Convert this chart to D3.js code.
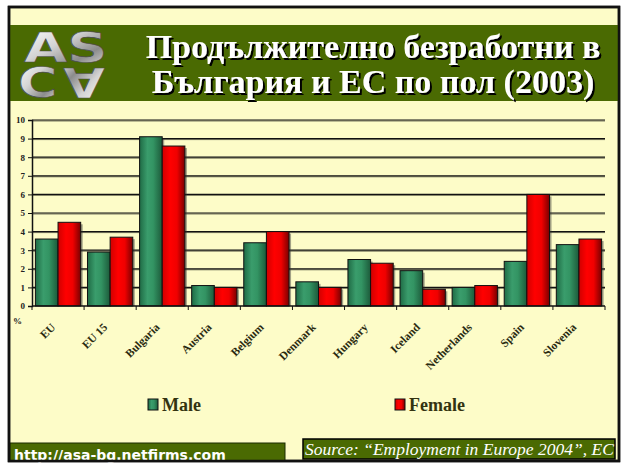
<!DOCTYPE html>
<html>
<head>
<meta charset="utf-8">
<script src="https://cdn.jsdelivr.net/npm/d3@7"></script>
<style>
  body { margin: 0; background: #fff; }
  svg { display: block; }
</style>
</head>
<body>
<div id="chart"></div>
<script>
// chart data
const countries = ["EU", "EU 15", "Bulgaria", "Austria", "Belgium", "Denmark",
                   "Hungary", "Iceland", "Netherlands", "Spain", "Slovenia"];
const male   = [3.6, 2.9, 9.1, 1.1, 3.4, 1.3, 2.5, 1.9, 1.0, 2.4, 3.3];
const female = [4.5, 3.7, 8.6, 1.0, 4.0, 1.0, 2.3, 0.9, 1.1, 6.0, 3.6];
const yTicks = [0, 1, 2, 3, 4, 5, 6, 7, 8, 9, 10];
const seriesNames = ["Male", "Female"];
const titleLines = ["Продължително безработни в", "България и ЕС по пол (2003)"];

const W = 622, H = 463;
const serif = "'Liberation Serif', 'Times New Roman', serif";

const svg = d3.select("#chart").append("svg")
    .attr("width", W)
    .attr("height", H);

const defs = svg.append("defs");

// bar gradients
function barGradient(id, stops) {
    let g = defs.append("linearGradient").attr("id", id)
        .attr("x1", "0%").attr("x2", "100%").attr("y1", "0%").attr("y2", "0%");
    stops.forEach(s => g.append("stop").attr("offset", s[0]).attr("stop-color", s[1]));
}
barGradient("gMale", [["0%", "#1f6b45"], ["35%", "#3a9d6c"], ["60%", "#339463"], ["100%", "#1c5a3a"]]);
barGradient("gFemale", [["0%", "#d00000"], ["35%", "#ff0000"], ["65%", "#f00000"], ["100%", "#7a0000"]]);

// logo silver gradient
let sg = defs.append("linearGradient").attr("id", "silver")
    .attr("x1", "0%").attr("x2", "100%").attr("y1", "0%").attr("y2", "100%");
sg.append("stop").attr("offset", "0%").attr("stop-color", "#ffffff");
sg.append("stop").attr("offset", "40%").attr("stop-color", "#d4d4d4");
sg.append("stop").attr("offset", "70%").attr("stop-color", "#8c8c8c");
sg.append("stop").attr("offset", "100%").attr("stop-color", "#eeeeee");

// title shadow
let sh = defs.append("filter").attr("id", "shadow")
    .attr("x", "-5%").attr("y", "-20%").attr("width", "115%").attr("height", "150%");
sh.append("feDropShadow")
    .attr("dx", 2).attr("dy", 2).attr("stdDeviation", 0.4)
    .attr("flood-color", "#000").attr("flood-opacity", 1);

// background frame
svg.append("rect")
    .attr("x", 9).attr("y", 7)
    .attr("width", 610).attr("height", 454)
    .attr("fill", "#fdfcc8")
    .attr("stroke", "#111")
    .attr("stroke-width", 2.5);

// header band
svg.append("rect")
    .attr("x", 10).attr("y", 25)
    .attr("width", 608).attr("height", 76)
    .attr("fill", "#4a6a02");

// logo
let logo = svg.append("g").attr("font-family", "'DejaVu Sans', Arial, sans-serif")
    .attr("font-weight", "bold")
    .attr("font-size", 40)
    .attr("fill", "url(#silver)")
    .attr("stroke", "#4a4a4a")
    .attr("stroke-width", 0.6);
logo.append("text")
    .attr("transform", "translate(24,62) scale(1.4,1)")
    .text("AS");
logo.append("text")
    .attr("transform", "translate(18,97) scale(1.35,1)")
    .text("C");
logo.append("text")
    .attr("text-anchor", "middle")
    .attr("transform", "translate(84,68) rotate(180) scale(1.35,1)")
    .text("A");

// title
let title = svg.append("g")
    .attr("font-family", serif)
    .attr("font-weight", "bold")
    .attr("font-size", 34)
    .attr("text-anchor", "middle")
    .attr("fill", "#fff")
    .attr("filter", "url(#shadow)");
titleLines.forEach((t, i) => {
    title.append("text")
        .attr("x", 373).attr("y", 58 + i * 35)
        .text(t);
});

// plot area
const margin = {left: 32, right: 605, top: 120, bottom: 306};

const x = d3.scaleBand()
    .domain(countries)
    .range([margin.left, margin.right]);

const sub = d3.scaleBand()
    .domain(seriesNames)
    .range([0, x.bandwidth()])
    .paddingOuter(0.15)
    .paddingInner(0);

const y = d3.scaleLinear()
    .domain([0, 10])
    .range([margin.bottom, margin.top]);

// gridlines
let grid = svg.append("g");
yTicks.filter(d => d > 0).forEach(d => {
    grid.append("line")
        .attr("x1", margin.left).attr("x2", margin.right)
        .attr("y1", y(d) + 1).attr("y2", y(d) + 1)
        .attr("stroke", "#7a7a60").attr("stroke-width", 1);
    grid.append("line")
        .attr("x1", margin.left).attr("x2", margin.right)
        .attr("y1", y(d)).attr("y2", y(d))
        .attr("stroke", "#111").attr("stroke-width", 1.2);
});

// bars
const rows = countries.map((c, i) => ({country: c, values: [male[i], female[i]]}));
const fills = ["url(#gMale)", "url(#gFemale)"];

let groups = svg.append("g").selectAll("g")
    .data(rows)
    .join("g")
    .attr("transform", d => "translate(" + x(d.country) + ",0)");

groups.selectAll(".shadow")
    .data(d => d.values.map((v, k) => ({v: v, k: k})))
    .join("rect")
    .attr("class", "shadow")
    .attr("x", d => sub(seriesNames[d.k]) + 2)
    .attr("y", d => y(d.v) + 2)
    .attr("width", sub.bandwidth())
    .attr("height", d => y(0) - y(d.v) - 2)
    .attr("fill", "#333")
    .attr("opacity", 0.45);

groups.selectAll(".bar")
    .data(d => d.values.map((v, k) => ({v: v, k: k})))
    .join("rect")
    .attr("class", "bar")
    .attr("x", d => sub(seriesNames[d.k]))
    .attr("y", d => y(d.v))
    .attr("width", sub.bandwidth())
    .attr("height", d => y(0) - y(d.v))
    .attr("fill", d => fills[d.k])
    .attr("stroke", "#111")
    .attr("stroke-width", 1);

// y axis
let yAxis = svg.append("g")
    .attr("transform", "translate(" + margin.left + ",0)")
    .call(d3.axisLeft(y).tickValues(yTicks).tickSize(4).tickFormat(d3.format("d")));
yAxis.select(".domain").attr("stroke", "#111").attr("stroke-width", 1.5);
yAxis.selectAll("line").attr("stroke", "#111");
yAxis.selectAll("text")
    .attr("font-family", serif)
    .attr("font-weight", "bold")
    .attr("font-size", 9)
    .attr("fill", "#222")
    .attr("x", -7);

// x axis
let xAxis = svg.append("g")
    .attr("transform", "translate(0," + margin.bottom + ")");
xAxis.append("line")
    .attr("x1", margin.left).attr("x2", margin.right)
    .attr("stroke", "#111").attr("stroke-width", 1.5);
xAxis.selectAll(".tick")
    .data(countries.concat(["end"]))
    .join("line")
    .attr("class", "tick")
    .attr("x1", (d, i) => margin.left + i * x.step())
    .attr("x2", (d, i) => margin.left + i * x.step())
    .attr("y1", 0).attr("y2", 4)
    .attr("stroke", "#111");

svg.append("g").selectAll("text")
    .data(countries)
    .join("text")
    .attr("transform", d => "translate(" + (x(d) + x.bandwidth() / 2 - 2) + "," + (margin.bottom + 22) + ") rotate(-45)")
    .attr("text-anchor", "end")
    .attr("font-family", serif)
    .attr("font-weight", "bold")
    .attr("font-size", 11.5)
    .attr("fill", "#2a2a10")
    .text(d => d);

svg.append("text")
    .attr("x", 13).attr("y", 324)
    .attr("font-family", serif)
    .attr("font-weight", "bold")
    .attr("font-size", 9)
    .attr("fill", "#222")
    .text("%");

// legend
const legendX = [148, 395];
let legend = svg.append("g").selectAll("g")
    .data(seriesNames)
    .join("g")
    .attr("transform", (d, i) => "translate(" + legendX[i] + ",399)");
legend.append("rect")
    .attr("width", 10).attr("height", 11)
    .attr("fill", (d, i) => fills[i])
    .attr("stroke", "#111");
legend.append("text")
    .attr("x", 14).attr("y", 12)
    .attr("font-family", serif)
    .attr("font-weight", "bold")
    .attr("font-size", 18)
    .attr("fill", "#333310")
    .text(d => d);

// footer boxes
svg.append("rect")
    .attr("x", 10).attr("y", 443)
    .attr("width", 275).attr("height", 18)
    .attr("fill", "#4a6a02")
    .attr("stroke", "#1a2a00");
svg.append("text")
    .attr("x", 14).attr("y", 460)
    .attr("font-family", "'DejaVu Sans', Verdana, sans-serif")
    .attr("font-weight", "bold")
    .attr("font-size", 14)
    .attr("fill", "#fff")
    .text("http://asa-bg.netfirms.com");

svg.append("rect")
    .attr("x", 303).attr("y", 439)
    .attr("width", 312).attr("height", 20)
    .attr("fill", "#4a6a02")
    .attr("stroke", "#000")
    .attr("stroke-width", 1.5);
svg.append("text")
    .attr("x", 305).attr("y", 455)
    .attr("font-family", serif)
    .attr("font-style", "italic")
    .attr("font-size", 17.5)
    .attr("fill", "#fff")
    .text("Source: “Employment in Europe 2004”, EC");

// redraw frame edge over footer
svg.append("rect")
    .attr("x", 9).attr("y", 7)
    .attr("width", 610).attr("height", 454)
    .attr("fill", "none")
    .attr("stroke", "#111")
    .attr("stroke-width", 2.5);
</script>
</body>
</html>
